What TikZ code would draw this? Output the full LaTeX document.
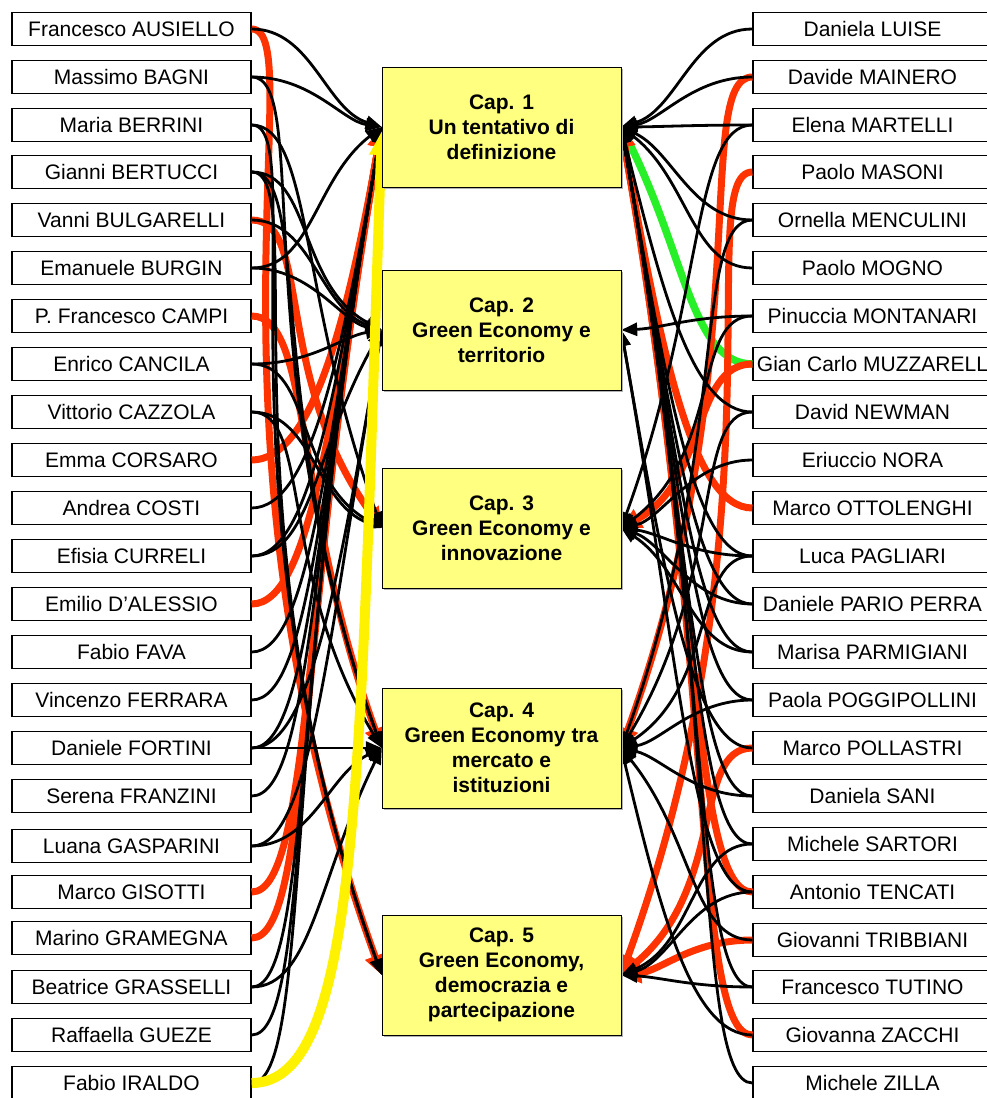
\documentclass[tikz,border=0pt]{standalone}
\usepackage{fontspec}
\setmainfont{Liberation Sans}
\usetikzlibrary{arrows.meta,calc,shadows}

\definecolor{capyellow}{RGB}{255,255,128}
\definecolor{linkred}{RGB}{255,51,0}
\definecolor{linkgreen}{RGB}{40,240,40}

\tikzset{
  pbox/.style={draw, line width=1.3pt, fill=white, minimum width=239pt, minimum height=33pt, inner sep=0pt, font=\fontsize{21}{24}\selectfont},
  capbox/.style={draw, line width=1pt, fill=capyellow, minimum width=239pt, minimum height=120pt, align=center,
    font=\fontsize{21}{25}\selectfont\bfseries, drop shadow={shadow xshift=2pt, shadow yshift=-2pt, fill=gray!60, opacity=1}},
  capspot/.style={minimum width=239pt, minimum height=120pt, inner sep=0pt},
  blk/.style={draw=black, line width=2.8pt, -{Triangle[length=16pt,width=13pt]}},
  redl/.style={draw=linkred, line width=7pt, -{Triangle[length=20pt,width=20pt]}},
  yel/.style={draw=yellow, line width=10pt, -{Triangle[length=24pt,width=22pt]}},
  grn/.style={draw=linkgreen, line width=7.5pt, -{Triangle[length=16pt,width=16pt]}},
}

\begin{document}
\begin{tikzpicture}[x=1pt,y=1pt]
    \useasboundingbox (0,0) rectangle (987,-1098);
    \clip (0,0) rectangle (987,-1098);

    \foreach \i/\yy/\nm in {1/29/Francesco AUSIELLO, 2/77/Massimo BAGNI, 3/125/Maria BERRINI,
        4/172/Gianni BERTUCCI, 5/220/Vanni BULGARELLI, 6/268/Emanuele BURGIN,
        7/316/P. Francesco CAMPI, 8/364/Enrico CANCILA, 9/412/Vittorio CAZZOLA,
        10/460/Emma CORSARO, 11/508/Andrea COSTI, 12/556/Efisia CURRELI,
        13/604/Emilio D’ALESSIO, 14/652/Fabio FAVA, 15/700/Vincenzo FERRARA,
        16/748/Daniele FORTINI, 17/796/Serena FRANZINI, 18/846/Luana GASPARINI,
        19/892/Marco GISOTTI, 20/938/Marino GRAMEGNA, 21/987/Beatrice GRASSELLI,
        22/1035/Raffaella GUEZE, 23/1083/Fabio IRALDO}
        \node[pbox] (L\i) at (131.5,-\yy) {\nm};

    \foreach \i/\yy/\nm in {1/29/Daniela LUISE, 2/77/Davide MAINERO, 3/125/Elena MARTELLI,
        4/172/Paolo MASONI, 5/220/Ornella MENCULINI, 6/268/Paolo MOGNO,
        7/316/Pinuccia MONTANARI, 8/364/Gian Carlo MUZZARELL, 9/412/David NEWMAN,
        10/460/Eriuccio NORA, 11/508/Marco OTTOLENGHI, 12/556/Luca PAGLIARI,
        13/604/Daniele PARIO PERRA, 14/652/Marisa PARMIGIANI, 15/700/Paola POGGIPOLLINI,
        16/748/Marco POLLASTRI, 17/796/Daniela SANI, 18/844/Michele SARTORI,
        19/892/Antonio TENCATI, 20/940/Giovanni TRIBBIANI, 21/987/Francesco TUTINO,
        22/1035/Giovanna ZACCHI, 23/1083/Michele ZILLA}
        \node[pbox] (R\i) at (872.5,-\yy) {\nm};

    \node[capspot] (cap1) at (501.5,-127) {};
    \node[capspot] (cap2) at (501.5,-330) {};
    \node[capspot] (cap3) at (501.5,-528) {};
    \node[capspot] (cap4) at (501.5,-748) {};
    \node[capspot] (cap5) at (501.5,-975) {};

    \foreach \src/\dst/\sty in {
        1/5/redl, 5/3/redl, 7/4/redl, 10/1/redl, 13/1/redl, 19/1/redl, 20/1/redl,
        1/1/blk, 2/1/blk, 2/4/blk, 3/3/blk, 3/5/blk, 4/2/blk, 4/4/blk, 4/5/blk, 5/2/blk,
        6/1/blk, 6/2/blk, 8/2/blk, 8/3/blk, 9/3/blk, 9/4/blk, 11/1/blk, 12/1/blk, 12/2/blk,
        14/1/blk, 15/1/blk, 16/4/blk, 16/1/blk, 16/2/blk, 17/1/blk, 18/2/blk, 18/4/blk,
        21/1/blk, 21/4/blk, 22/1/blk, 23/1/blk}
        \draw[\sty] let \p1=(L\src.east), \p2=(cap\dst.west), \n1={\y1-(\y2)},
            \n2={\n1>0 ? 180-70*min(1,\n1/400) : 180+80*min(1,-\n1/300)},
            \n3={max(40,0.6*abs(\n1))} in
            (\p1) .. controls +(60,0) and +(\n2:\n3) .. (\p2);

    \draw[yel] (L23.east) .. controls +(110,0) and +(268:640) .. ([yshift=-4pt]cap1.west);

    \foreach \src/\dst/\sty in {8/1/grn,
        2/4/redl, 4/5/redl, 8/3/redl, 11/1/redl, 16/5/redl, 19/1/redl, 20/5/redl, 22/1/redl,
        1/1/blk, 2/1/blk, 3/1/blk, 3/3/blk, 5/1/blk, 5/4/blk, 6/1/blk, 7/2/blk, 7/3/blk,
        9/1/blk, 9/4/blk, 10/3/blk, 12/3/blk, 12/1/blk, 12/4/blk, 13/3/blk, 13/1/blk,
        14/3/blk, 14/1/blk, 15/4/blk, 15/1/blk, 16/2/blk, 17/1/blk, 17/4/blk, 18/1/blk,
        18/5/blk, 19/2/blk, 19/5/blk, 20/4/blk, 21/1/blk, 21/5/blk, 22/4/blk, 23/1/blk}
        \draw[\sty] let \p1=(R\src.west), \p2=(cap\dst.east), \n1={\y1-(\y2)},
            \n2={\n1>0 ? 70*min(1,\n1/400) : -80*min(1,-\n1/300)},
            \n3={max(40,0.6*abs(\n1))} in
            (\p1) .. controls +(-60,0) and +(\n2:\n3) .. (\p2);

    \node[capbox] at (cap1) {Cap. 1\\Un tentativo di\\definizione};
    \node[capbox] at (cap2) {Cap. 2\\Green Economy e\\territorio};
    \node[capbox] at (cap3) {Cap. 3\\Green Economy e\\innovazione};
    \node[capbox] at (cap4) {Cap. 4\\Green Economy tra\\mercato e\\istituzioni};
    \node[capbox] at (cap5) {Cap. 5\\Green Economy,\\democrazia e\\partecipazione};
\end{tikzpicture}
\end{document}
